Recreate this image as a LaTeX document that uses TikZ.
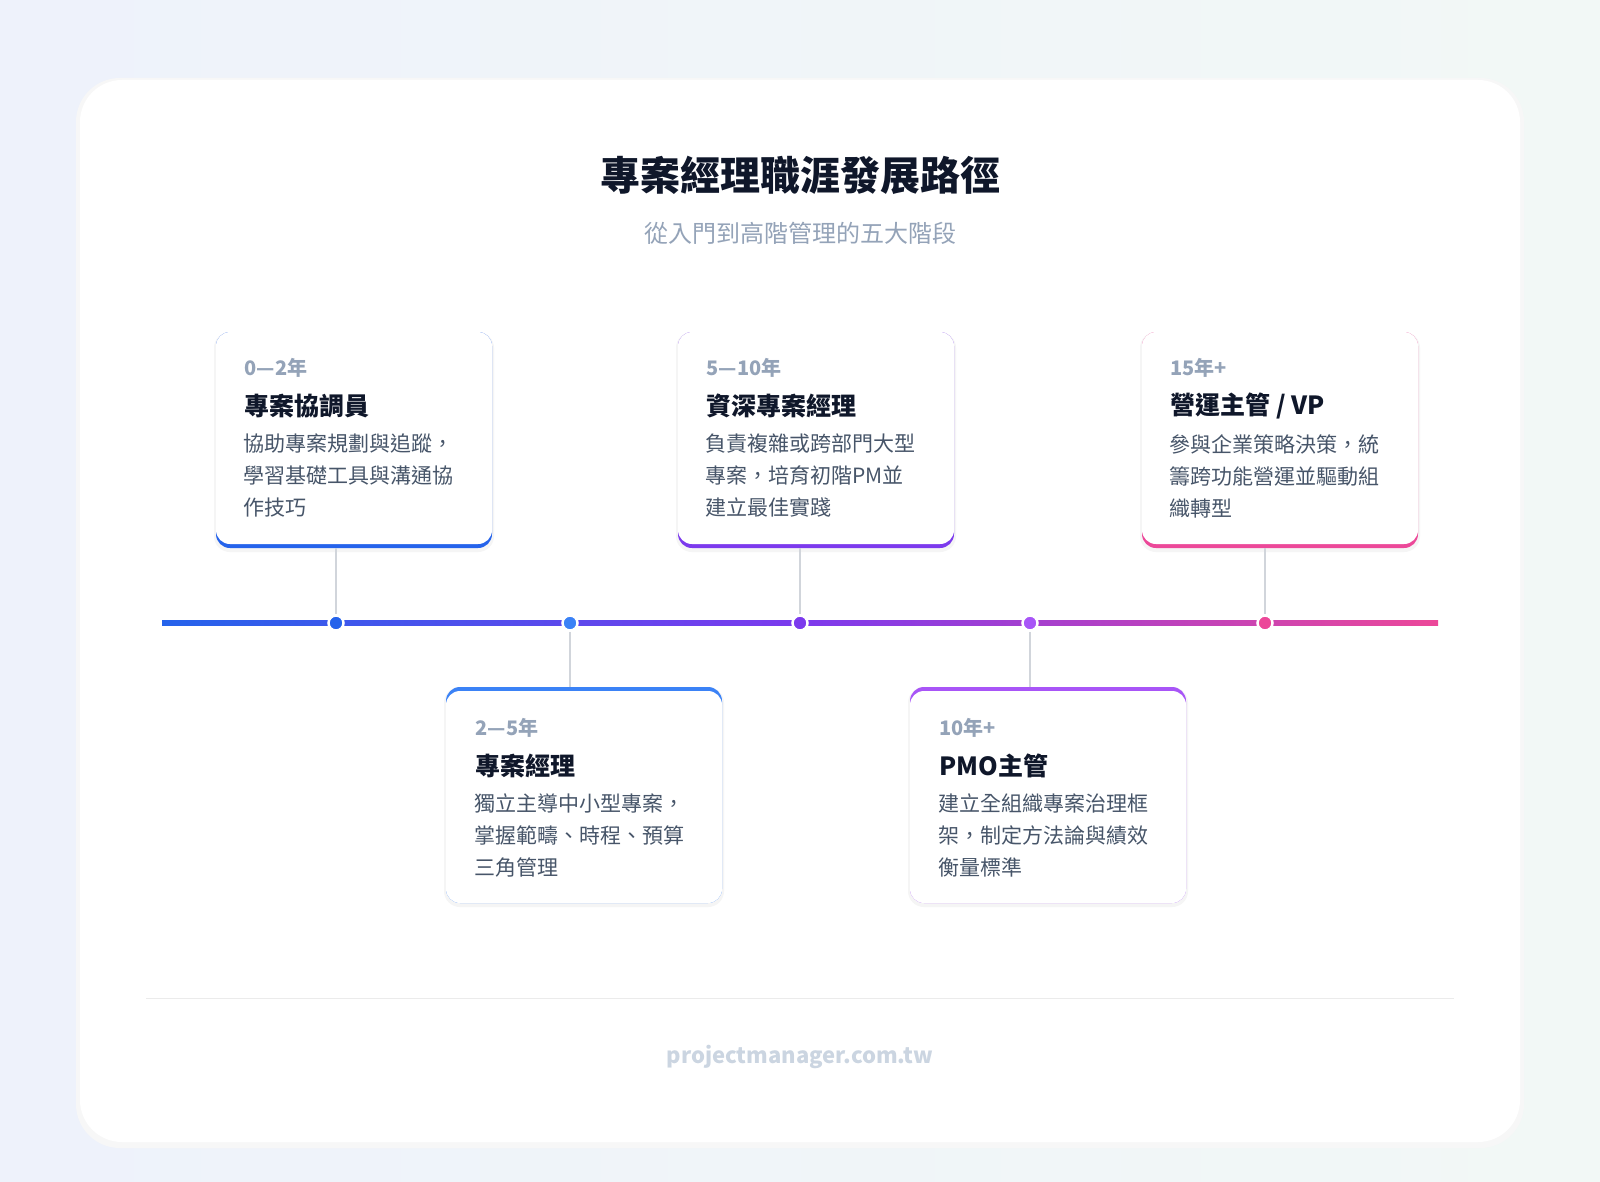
\documentclass[tikz,border=0pt]{standalone}
\usepackage{fontspec}
\setmainfont{Noto Sans CJK TC}
\usetikzlibrary{positioning}
\definecolor{bgA}{HTML}{EEF2FB}
\definecolor{bgB}{HTML}{F2F8F6}
\definecolor{cBlue}{HTML}{2563EB}
\definecolor{cBlue2}{HTML}{3B82F6}
\definecolor{cPur}{HTML}{7C3AED}
\definecolor{cPur2}{HTML}{A855F7}
\definecolor{cPink}{HTML}{EC4899}
\definecolor{ink}{HTML}{0F172A}
\definecolor{body}{HTML}{475569}
\definecolor{muted}{HTML}{94A3B8}
\definecolor{conn}{HTML}{D1D5DB}
\definecolor{foot}{HTML}{CBD5E1}
\tikzset{
  face/.style={fill=white,rounded corners=14pt,minimum width=276pt,minimum height=212pt,inner sep=0pt},
  rim/.style={fill=#1,rounded corners=14pt,minimum width=276pt,minimum height=216pt,inner sep=0pt},
  shadowc/.style={fill=black!4,rounded corners=16pt,minimum width=280pt,minimum height=220pt,inner sep=0pt},
  dot/.style={circle,fill=#1,draw=white,line width=2.5pt,minimum size=15pt,inner sep=0pt},
  yr/.style={anchor=west,text=muted,font=\bfseries\fontsize{20}{24}\selectfont},
  ttl/.style={anchor=west,text=ink,font=\bfseries\fontsize{25}{30}\selectfont},
  desc/.style={anchor=north west,text=body,align=left,text width=230pt,font=\fontsize{21}{32}\selectfont,inner sep=0pt},
  cn/.style={draw=conn,line width=2.5pt}
}
\begin{document}
\begin{tikzpicture}[x=1pt,y=-1pt]
\useasboundingbox (0,0) rectangle (1600,1182);
\shade[left color=bgA,right color=bgB] (0,0) rectangle (1600,1182);
\fill[black!3,rounded corners=44pt] (76,78) rectangle (1524,1148);
\fill[white,rounded corners=42pt] (80,80) rectangle (1520,1142);
\node[font=\bfseries\fontsize{40}{48}\selectfont,text=ink] (title) at (800,175) {專案經理職涯發展路徑};
\node[font=\fontsize{24}{30}\selectfont,text=muted] (sub) at (800,233) {從入門到高階管理的五大階段};
% timeline
\shade[left color=cBlue,right color=cPink,middle color=cPur] (162,620.5) rectangle (1438,625.5);
\node[dot=cBlue] (d1) at (336,623) {};
\node[dot=cBlue2] (d2) at (570,623) {};
\node[dot=cPur] (d3) at (800,623) {};
\node[dot=cPur2] (d4) at (1030,623) {};
\node[dot=cPink] (d5) at (1265,623) {};
% top cards
\foreach \n/\cx/\col in {1/354/cBlue,3/816/cPur,5/1280/cPink}{
  \node[shadowc] at (\cx,442) {};
  \node[rim=\col] (r\n) at (\cx,440) {};
  \node[face] (c\n) at (\cx,438) {};
}
% bottom cards
\foreach \n/\cx/\col in {2/584/cBlue2,4/1048/cPur2}{
  \node[shadowc] at (\cx,797) {};
  \node[rim=\col] (r\n) at (\cx,795) {};
  \node[face] (c\n) at (\cx,797) {};
}
\draw[cn] (r1.south -| d1) -- (d1.north);
\draw[cn] (r3.south -| d3) -- (d3.north);
\draw[cn] (r5.south -| d5) -- (d5.north);
\draw[cn] (d2.south) -- (r2.north -| d2);
\draw[cn] (d4.south) -- (r4.north -| d4);
% texts
\node[yr] (y1) at (241,368) {0—2年};
\node[ttl] (t1) at (241,406) {專案協調員};
\node[desc] (x1) at (243,434) {協助專案規劃與追蹤，\\學習基礎工具與溝通協\\作技巧};
\node[yr] (y3) at (703,368) {5—10年};
\node[ttl] (t3) at (703,406) {資深專案經理};
\node[desc] (x3) at (705,434) {負責複雜或跨部門大型\\專案，培育初階PM並\\建立最佳實踐};
\node[yr] (y5) at (1167,368) {15年+};
\node[ttl] (t5) at (1167,406) {營運主管 / VP};
\node[desc] (x5) at (1169,434) {參與企業策略決策，統\\籌跨功能營運並驅動組\\織轉型};
\node[yr] (y2) at (472,728) {2—5年};
\node[ttl] (t2) at (472,766) {專案經理};
\node[desc] (x2) at (474,794) {獨立主導中小型專案，\\掌握範疇、時程、預算\\三角管理};
\node[yr] (y4) at (936,728) {10年+};
\node[ttl] (t4) at (936,766) {PMO主管};
\node[desc] (x4) at (938,794) {建立全組織專案治理框\\架，制定方法論與績效\\衡量標準};
% footer
\draw[black!8,line width=1pt] (146,998) -- (1454,998);
\node[font=\bfseries\fontsize{22}{26}\selectfont,text=foot] (ft) at (800,1057) {projectmanager.com.tw};
\end{tikzpicture}
\end{document}
